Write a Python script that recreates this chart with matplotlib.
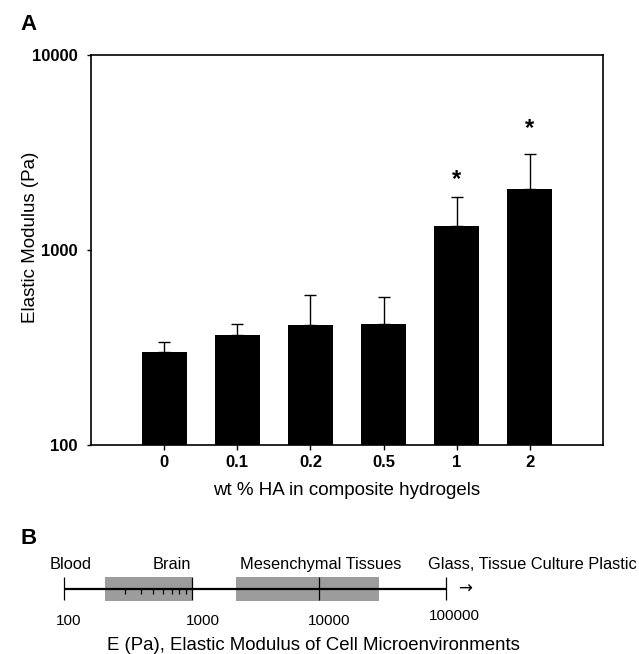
import matplotlib
matplotlib.use("Agg")
import matplotlib.pyplot as plt
import numpy as np

plt.rcParams['font.family'] = ['Liberation Sans', 'DejaVu Sans']

# panel A data
ha_labels = ["0", "0.1", "0.2", "0.5", "1", "2"]
modulus = [301, 367, 411, 416, 1327, 2063]
modulus_err = [38, 50, 176, 158, 536, 1041]
signif = [False, False, False, False, True, True]
star_y = [None, None, None, None, 2130, 3890]

# panel B data
regions = ["Brain", "Mesenchymal Tissues"]
region_lo = [210, 2250]
region_hi = [1000, 30000]
scale_ticks = [100, 1000, 10000, 100000]
scale_labels = ["100", "1000", "10000", "100000"]
minor_ticks = [300, 400, 500, 600, 700, 800, 900]

W, H = 639, 654
fig = plt.figure(figsize=(W / 100, H / 100), dpi=100)

# ---------- panel A ----------
ax = fig.add_axes([91 / W, 1 - 445 / H, (603 - 91) / W, (445 - 55) / H])
x = np.arange(len(ha_labels))
ax.bar(x, modulus, width=0.616, color="black", zorder=2)
ax.errorbar(x, modulus, yerr=[np.zeros(len(x)), modulus_err], fmt="none",
            ecolor="black", elinewidth=1.0, capsize=4.3, capthick=1.0, zorder=1)
for i in range(len(x)):
    if signif[i]:
        ax.text(x[i], star_y[i], "*", ha="center", va="baseline",
                fontsize=17, fontweight="bold")

ax.set_yscale("log")
ax.set_ylim(100, 10000)
ax.set_xlim(-1, 6)
ax.set_yticks([100, 1000, 10000])
ax.set_yticklabels(["100", "1000", "10000"])
ax.yaxis.set_minor_locator(matplotlib.ticker.NullLocator())
ax.set_xticks(x)
ax.set_xticklabels(ha_labels)
for lab in ax.get_xticklabels() + ax.get_yticklabels():
    lab.set_fontweight("bold")
    lab.set_fontsize(12)
ax.tick_params(axis="y", direction="out", length=3, width=1, pad=6.5)
ax.tick_params(axis="x", direction="out", length=3.5, width=1, pad=3.5)
for s in ax.spines.values():
    s.set_linewidth(1.2)
ax.set_xlabel("wt % HA in composite hydrogels", fontsize=13.5, labelpad=9)

fig.text(31 / W, 1 - 237 / H, "Elastic Modulus (Pa)", rotation=90,
         ha="center", va="center", fontsize=13.5)
fig.text(20 / W, 1 - 25 / H, "A", ha="left", va="center", fontsize=16, fontweight="bold")
fig.text(20 / W, 1 - 538 / H, "B", ha="left", va="center", fontsize=16, fontweight="bold")

# ---------- panel B ----------
bx = fig.add_axes([64.3 / W, 1 - 601 / H, (446 - 64.3) / W, 24 / H])
bx.set_xscale("log")
bx.set_xlim(100, 100000)
bx.set_ylim(0, 1)
bx.axis("off")

for lo, hi in zip(region_lo, region_hi):
    bx.axvspan(lo, hi, ymin=0, ymax=1, color="#9c9c9c", lw=0, zorder=1)
bx.plot([scale_ticks[0], scale_ticks[-1]], [0.5, 0.5], color="black", lw=1.6,
        zorder=3, clip_on=False, solid_capstyle="butt")
bx.vlines(scale_ticks, 0.04, 0.98, color="black", lw=0.9, zorder=3, clip_on=False)
bx.vlines(minor_ticks, 0.29, 0.5, color="black", lw=0.9, zorder=3)

# labels above the scale
bx.text(113, 1.54, "Blood", ha="center", va="center", fontsize=11.8)
bx.text(695, 1.54, regions[0], ha="center", va="center", fontsize=11.8)
bx.text(10300, 1.54, regions[1], ha="center", va="center", fontsize=11.8)
bx.text(72300, 1.54, "Glass, Tissue Culture Plastic", ha="left", va="center",
        fontsize=11.8)
bx.text(141000, 0.5, "→", ha="center", va="center", fontsize=12,
        family=["DejaVu Sans"])

# tick labels under the scale
lab_x = [109, 1218, 12000, 115600]
lab_y = [-0.83, -0.83, -0.83, -0.61]
for lx, ly, t in zip(lab_x, lab_y, scale_labels):
    bx.text(lx, ly, t, ha="center", va="center", fontsize=11)

fig.text(313 / W, 1 - 645 / H, "E (Pa), Elastic Modulus of Cell Microenvironments",
         ha="center", va="center", fontsize=13.4)

fig.savefig("out.png", dpi=100)
